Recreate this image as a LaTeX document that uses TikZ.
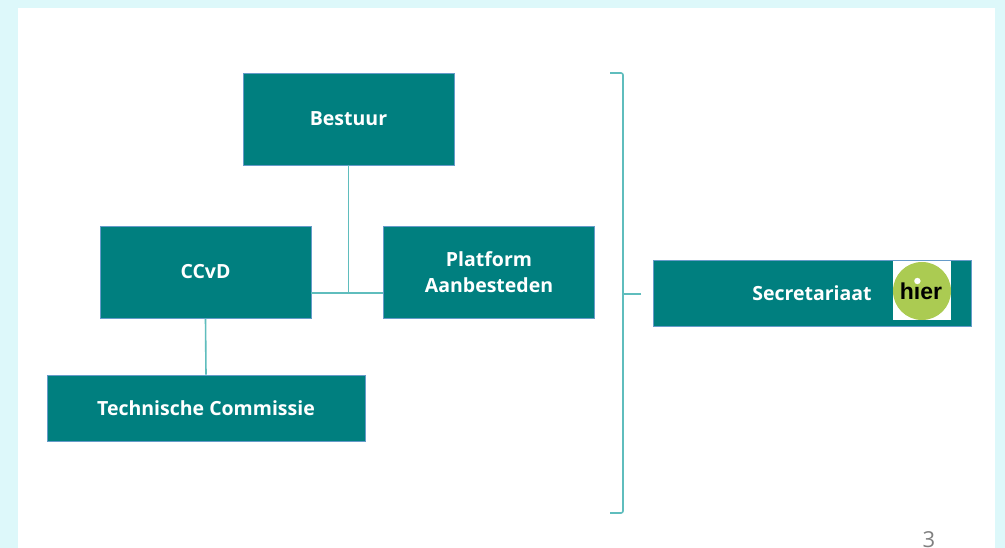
\documentclass[tikz,border=0pt]{standalone}
\usepackage{fontspec}
\setmainfont{Open Sans}
\newfontfamily\logofont{Liberation Sans}
\definecolor{teal}{HTML}{007F7F}
\definecolor{lineteal}{HTML}{5FBDBD}
\definecolor{panelcyan}{HTML}{DDF8FA}
\definecolor{hiergreen}{HTML}{ABCB52}
\tikzset{
    orgbox/.style={fill=teal, draw=teal!70!blue!60, line width=0.8pt, text=white,
        font=\fontsize{19.5}{26}\selectfont\bfseries, align=center, inner sep=0pt},
    link/.style={draw=lineteal, line width=1.6pt}
}
\begin{document}
\begin{tikzpicture}[x=1pt, y=-1pt]
        % Background
        \fill[panelcyan] (0,0) rectangle (1005,548);
        \fill[white] (18,8) rectangle (995,548);
        \useasboundingbox (0,0) rectangle (1005,548);

        % Nodes
        \node[orgbox, minimum width=211pt, minimum height=92pt] (Bestuur) at (348.5,119) {Bestuur};
        \node[orgbox, minimum width=211pt, minimum height=92pt] (CCvD) at (205.5,272) {CCvD};
        \node[orgbox, minimum width=211pt, minimum height=92pt] (Platform) at (489,272) {Platform\\Aanbesteden};
        \node[orgbox, minimum width=318pt, minimum height=66pt] (TC) at (206,408) {Technische Commissie};
        \node[orgbox, minimum width=318pt, minimum height=66pt] (Secretariaat) at (812,293) {Secretariaat};

        % Logo
        \node[fill=white, minimum width=58pt, minimum height=59pt, inner sep=0pt] (LogoBg) at (922,291) {};
        \node[circle, fill=hiergreen, minimum size=58pt, inner sep=0pt] (Logo) at (LogoBg) {};
        \node[font=\logofont\fontsize{23}{23}\selectfont\bfseries, text=black, anchor=base, inner sep=0pt] (Hier) at (921,300) {hıer};
        \fill[white] ([xshift=-3.6pt]Hier.base) ++(0,-19) circle (3.2pt);

        % Connectors
        \coordinate (Joint) at (Bestuur.south |- 0,293);
        \draw[link] (Bestuur.south) -- (Joint);
        \draw[link] (Joint -| CCvD.east) -- (Joint -| Platform.west);
        \draw[link] (CCvD.south) -- (TC.north);

        % Brace
        \coordinate (BraceTop) at (610,73);
        \coordinate (BraceBot) at (610,513);
        \coordinate (BraceTip) at (641,294);
        \draw[link, rounded corners=2pt] (BraceTop) -- ++(13,0) -- ++(0,440) -- (BraceBot);
        \draw[link] (BraceTip) -- ++(-18,0);

        % Page number
        \node[text=gray, font=\fontsize{22}{22}\selectfont, anchor=north] (PageNo) at (929,528) {3};
    \end{tikzpicture}
\end{document}
